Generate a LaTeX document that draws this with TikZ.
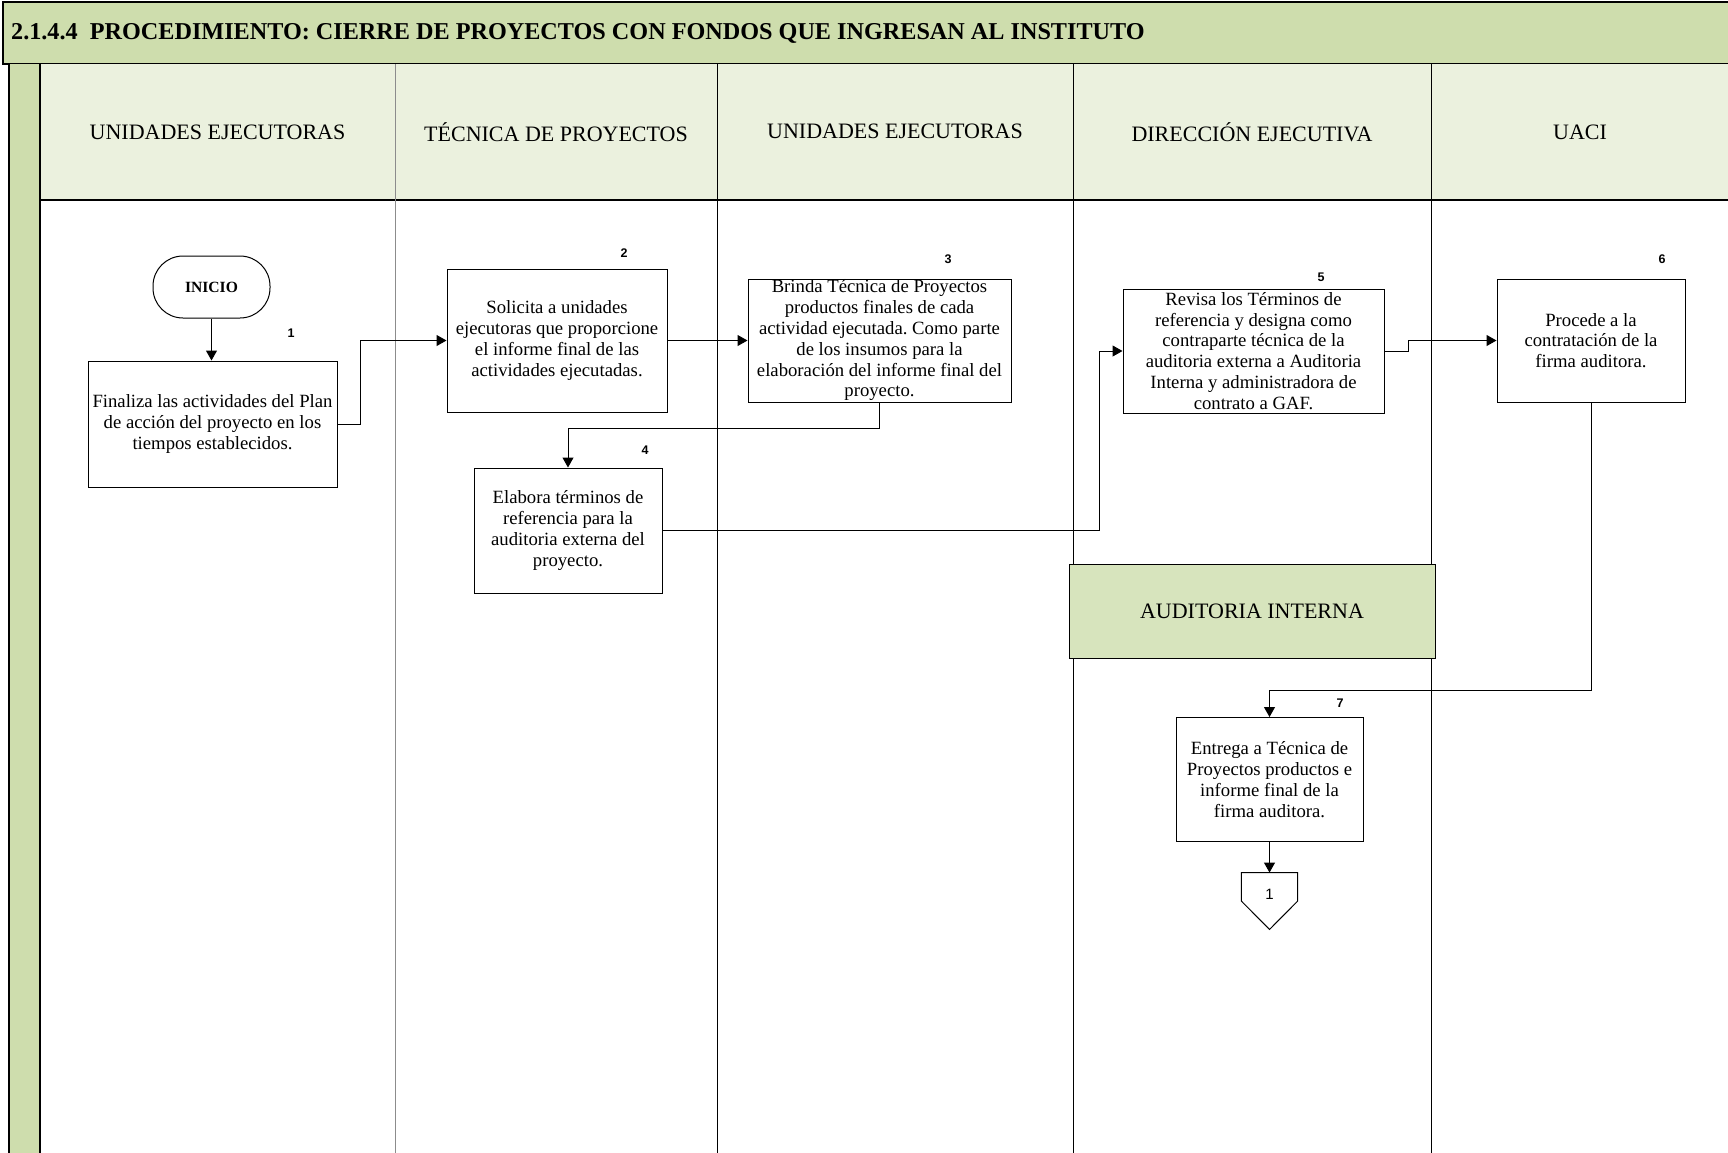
\documentclass[tikz,border=0pt]{standalone}
\usepackage{fontspec}
\setmainfont{Liberation Serif}
\newfontfamily\numfont{Liberation Sans}
\usetikzlibrary{arrows.meta}
\frenchspacing

\definecolor{titlegreen}{HTML}{CEDDAD}
\definecolor{headgreen}{HTML}{EBF1DE}
\definecolor{auditgreen}{HTML}{D7E4BD}
\definecolor{lanegray}{HTML}{8C8C8C}

\tikzset{
  procbox/.style={draw=black, line width=1pt, fill=white, inner sep=0pt},
  proctext/.style={align=center, inner sep=0pt, font=\fontsize{18.7pt}{20.8pt}\selectfont},
  stepno/.style={font=\numfont\bfseries\fontsize{12.5pt}{14pt}\selectfont, inner sep=0pt},
  lanehead/.style={font=\fontsize{22pt}{26pt}\selectfont, inner sep=0pt},
  conn/.style={draw=black, line width=1pt, -{Triangle[length=10pt,width=11pt]}},
  laneline/.style={line width=1pt},
}

\begin{document}
\begin{tikzpicture}[x=1pt,y=-1pt]
\useasboundingbox (0,0) rectangle (1728,1152);

% title bar
\fill[titlegreen] (3,2) rectangle (1730,64);
\draw[line width=2pt] (1730,2) -- (3,2) -- (3,64) -- (1730,64);
\node[anchor=west, inner sep=0pt, font=\bfseries\fontsize{24.2pt}{28pt}\selectfont] (title) at (11,33)
  {2.1.4.4\ \ PROCEDIMIENTO: CIERRE DE PROYECTOS CON FONDOS QUE INGRESAN AL INSTITUTO};

% left strip and header band
\fill[titlegreen] (9,64) rectangle (40,1153);
\fill[headgreen] (40,64) rectangle (1730,200);
\draw[line width=1.5pt] (9,64) -- (9,1153);
\draw[line width=2pt] (40,64) -- (40,1153);
\draw[line width=1.5pt] (40,200) -- (1730,200);

% lane separators
\draw[laneline, draw=lanegray] (395,64) -- (395,1153);
\draw[laneline] (717,64) -- (717,1153);
\draw[laneline] (1073,64) -- (1073,1153);
\draw[laneline] (1431,64) -- (1431,1153);

% lane headings
\node[lanehead] (h1) at (217.5,132) {UNIDADES EJECUTORAS};
\node[lanehead] (h2) at (556,132) {TÉCNICA DE PROYECTOS};
\node[lanehead] (h3) at (895,131) {UNIDADES EJECUTORAS};
\node[lanehead] (h4) at (1252,132) {DIRECCIÓN EJECUTIVA};
\node[lanehead] (h5) at (1580,132) {UACI};

% sub-lane heading
\node[draw=black, line width=1pt, fill=auditgreen, minimum width=366, minimum height=94, inner sep=0pt,
      font=\fontsize{22pt}{26pt}\selectfont] (audit) at (1252,611) {AUDITORIA INTERNA};

% start terminator
\node[draw=black, line width=1pt, fill=white, rounded corners=30pt, minimum width=117, minimum height=62,
      inner sep=0pt, font=\bfseries\fontsize{15.6pt}{18pt}\selectfont] (ini) at (211.5,287) {INICIO};

% process boxes
\node[procbox, minimum width=249, minimum height=126] (b1) at (212.5,424) {};
\node[proctext] (b1t) at (b1.center) {Finaliza las actividades del Plan\\de acción del proyecto en los\\tiempos establecidos.};

\node[procbox, minimum width=220, minimum height=143] (b2) at (557,340.5) {};
\node[proctext] (b2t) at (b2.center) {Solicita a unidades\\ejecutoras que proporcione\\el informe final de las\\actividades ejecutadas.};

\node[procbox, minimum width=263, minimum height=123] (b3) at (879.5,340.5) {};
\node[proctext] (b3t) at (b3.center) {Brinda Técnica de Proyectos\\productos finales de cada\\actividad ejecutada. Como parte\\de los insumos para la\\elaboración del informe final del\\proyecto.};

\node[procbox, minimum width=188, minimum height=125] (b4) at (568,530.5) {};
\node[proctext] (b4t) at (b4.center) {Elabora términos de\\referencia para la\\auditoria externa del\\proyecto.};

\node[procbox, minimum width=261, minimum height=124] (b5) at (1253.5,351) {};
\node[proctext] (b5t) at (b5.center) {Revisa los Términos de\\referencia y designa como\\contraparte técnica de la\\auditoria externa a Auditoria\\Interna y administradora de\\contrato a GAF.};

\node[procbox, minimum width=188, minimum height=123] (b6) at (1591,340.5) {};
\node[proctext] (b6t) at (b6.center) {Procede a la\\contratación de la\\firma auditora.};

\node[procbox, minimum width=187, minimum height=124] (b7) at (1269.5,779.5) {};
\node[proctext] (b7t) at (b7.center) {Entrega a Técnica de\\Proyectos productos e\\informe final de la\\firma auditora.};

% off-page connector
\node[minimum width=56, minimum height=56.5, inner sep=0pt] (off) at (1269.5,901) {};
\draw[line width=1pt, fill=white] (off.north west) -- (off.north east) -- (off.east) -- (off.south) -- (off.west) -- cycle;
\node[inner sep=0pt, font=\numfont\fontsize{15pt}{17pt}\selectfont] (offt) at (1269.5,894) {1};

% step numbers
\node[stepno] (n1) at (291,333) {1};
\node[stepno] (n2) at (624,253) {2};
\node[stepno] (n3) at (948,259) {3};
\node[stepno] (n4) at (645,450) {4};
\node[stepno] (n5) at (1321,277) {5};
\node[stepno] (n6) at (1662,259) {6};
\node[stepno] (n7) at (1340,703) {7};

% connectors
\draw[conn] (ini.south) -- (ini.south |- b1.north);
\draw[conn] (b1.east) -- ++(23,0) |- (b2.west);
\draw[conn] (b2.east) -- (b3.west);
\draw[conn] (b3.south) -- ++(0,26) -| (b4.north);
\draw[conn] (b4.east) -- ++(437,0) |- (b5.west);
\draw[conn] (b5.east) -- ++(24,0) |- (b6.west);
\draw[conn] (b6.south) -- ++(0,288) -| (b7.north);
\draw[conn] (b7.south) -- (off.north);
\end{tikzpicture}
\end{document}
